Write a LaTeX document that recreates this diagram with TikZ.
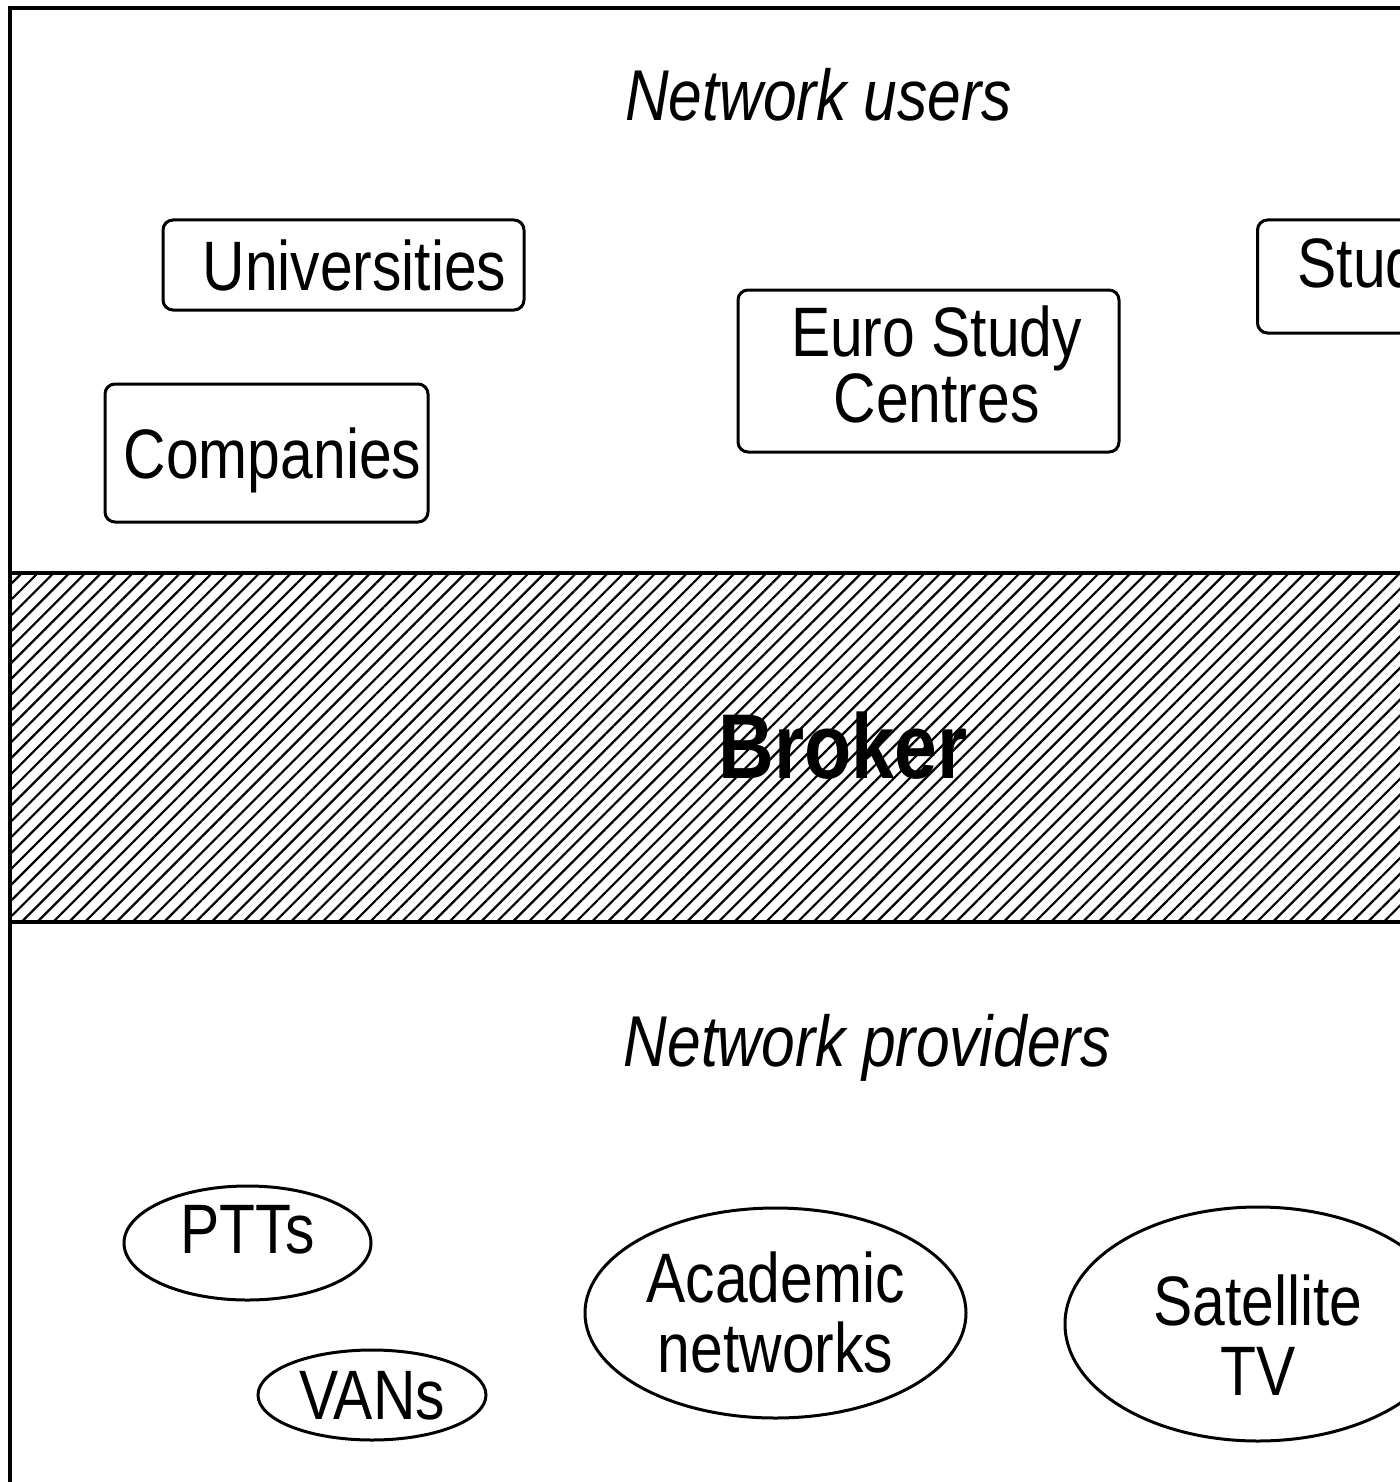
\documentclass[tikz,border=0pt]{standalone}
\usepackage{fontspec}
\setmainfont{Liberation Sans}[FakeStretch=0.84]
\usetikzlibrary{shapes.geometric,patterns.meta}
\tikzset{
  box/.style={draw, line width=1.5pt, rounded corners=5pt, inner sep=0pt, align=center,
    font=\fontsize{35}{31}\selectfont},
  oval/.style={draw, ellipse, line width=1.5pt, inner sep=0pt, align=center,
    font=\fontsize{35}{35}\selectfont},
  heading/.style={anchor=base, inner sep=0pt, font=\fontsize{36}{40}\selectfont\itshape},
  frameline/.style={line width=1.8pt},
  hatch/.style={pattern={Lines[angle=45, distance=5.6pt, line width=1.1pt]}}
}
\begin{document}
\begin{tikzpicture}[x=0.5pt,y=-0.5pt]
\useasboundingbox (0,0) rectangle (1400,1482);
\clip (0,0) rectangle (1400,1482);
\fill[white] (0,0) rectangle (1400,1482);

% broker band
\fill[hatch] (10,573) rectangle (1420,922);
\coordinate (tl) at (10,8);
\coordinate (tr) at (1420,8);
\coordinate (bl) at (10,1500);
\coordinate (btop) at (10,573);
\coordinate (btopr) at (1420,573);
\coordinate (bbot) at (10,922);
\coordinate (bbotr) at (1420,922);
\draw[frameline] (tr) -- (tl) -- (bl);
\draw[frameline] (btop) -- (btopr);
\draw[frameline] (bbot) -- (bbotr);

% headings
\node[heading] (users) at (818.5,121) {Network users};
\node[heading] (providers) at (867.5,1066) {Network providers};
\node[anchor=base, inner sep=0pt, font=\fontsize{46}{50}\selectfont\bfseries] (broker) at (843,778) {Broker};

% users
\node[box, minimum width=180.5pt, minimum height=45pt] (univ) at (343.5,265) {\hspace*{11pt}Universities};
\node[box, minimum width=161.5pt, minimum height=69pt, text depth=0pt] (comp) at (266.5,453) {\hspace*{6pt}Companies};
\node[box, minimum width=190.5pt, minimum height=81pt, text height=51pt, text depth=0pt] (esc) at (928.5,371) {\hspace*{8pt}Euro Study\\\hspace*{8pt}Centres};
\node[box, anchor=west, minimum height=56.5pt, inner xsep=20pt, text depth=14pt] (stud) at (1256,276.5) {Students};

% providers
\node[oval, minimum width=123.5pt, minimum height=57pt, text depth=13.5pt] (ptt) at (247.5,1243) {PTTs};
\node[oval, minimum width=114pt, minimum height=45pt, text depth=0pt] (van) at (372,1395) {VANs};
\node[oval, minimum width=190.5pt, minimum height=105pt, text height=59pt, text depth=0pt] (acad) at (775.5,1313) {Academic\\networks};
\node[oval, minimum width=193pt, minimum height=117pt, text height=71pt, text depth=0pt] (sat) at (1258,1324) {Satellite\\TV};
\end{tikzpicture}
\end{document}
